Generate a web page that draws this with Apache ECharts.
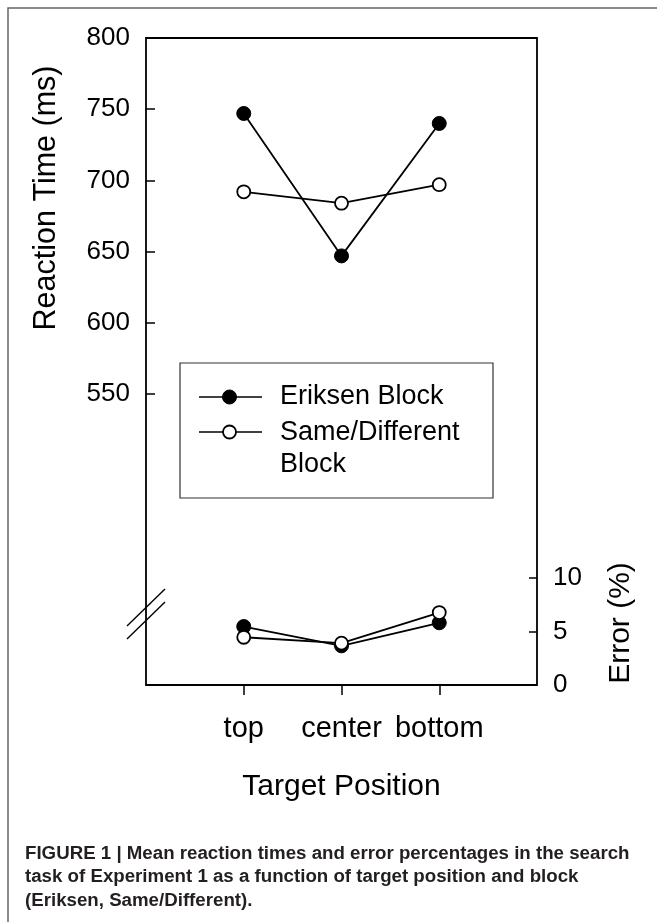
<!DOCTYPE html>
<html>
<head>
<meta charset="utf-8">
<script src="https://cdn.jsdelivr.net/npm/echarts@6/dist/echarts.min.js"></script>
<style>
  html, body { margin: 0; padding: 0; background: #fff; }
  #chart { width: 657px; height: 922px; }
</style>
</head>
<body>
<div id="chart"></div>
<script>
// target positions on the x axis
const positions = ['top', 'center', 'bottom']
// mean reaction time (ms)
const rtEriksen = [747, 647, 740]
const rtSameDiff = [692, 684, 697]
// error percentage
const errEriksen = [5.45, 3.65, 5.8]
const errSameDiff = [4.45, 3.9, 6.75]
// tick labels
const rtTicks = [550, 600, 650, 700, 750, 800]
const errTicks = [0, 5, 10]
const posTicks = [0, 1, 2]

const seriesNames = ['Eriksen Block', 'Same/Different Block']

const font = 'Liberation Sans, Arial, Helvetica, sans-serif'

function pairs (values) {
  return values.map((v, i) => [i, v])
}

const chart = echarts.init(document.getElementById('chart'), null, { renderer: 'canvas' })

const filledSeries = {
  type: 'line',
  symbol: 'circle',
  symbolSize: 14,
  lineStyle: { color: '#000', width: 1.8 },
  itemStyle: { color: '#000', borderColor: '#000', borderWidth: 1 },
  z: 3
}
const openSeries = {
  type: 'line',
  symbol: 'circle',
  symbolSize: 13,
  lineStyle: { color: '#000', width: 1.8 },
  itemStyle: { color: '#fff', borderColor: '#000', borderWidth: 1.8 },
  z: 4
}

const option = {
  backgroundColor: '#fff',
  animation: false,
  textStyle: { fontFamily: font },
  grid: {
    left: 146,
    right: 120,
    top: 38,
    bottom: 237,
    show: true,
    borderColor: '#000',
    borderWidth: 1.8
  },
  xAxis: {
    type: 'value',
    min: -1,
    max: 3,
    name: 'Target Position',
    nameLocation: 'middle',
    nameGap: 87,
    nameTextStyle: { fontSize: 30, color: '#000', fontFamily: font },
    axisLine: { show: false, onZero: false },
    splitLine: { show: false },
    axisTick: { show: true, inside: false, length: 10, customValues: posTicks, lineStyle: { color: '#000', width: 1.5 } },
    axisLabel: {
      customValues: posTicks,
      margin: 29,
      fontSize: 29,
      color: '#000',
      fontFamily: font,
      formatter: (v) => positions[Math.round(v)] || ''
    }
  },
  yAxis: [
    {
      type: 'value',
      position: 'left',
      min: 345.7,
      max: 800,
      axisLine: { show: false, onZero: false },
      splitLine: { show: false },
      axisTick: { show: true, inside: true, length: 9, customValues: rtTicks, lineStyle: { color: '#000', width: 1.5 } },
      axisLabel: { customValues: rtTicks, margin: 16, fontSize: 26, color: '#000', fontFamily: font }
    },
    {
      type: 'value',
      position: 'right',
      min: 0,
      max: 60.3,
      axisLine: { show: false, onZero: false },
      splitLine: { show: false },
      axisTick: { show: true, inside: true, length: 8, customValues: errTicks, lineStyle: { color: '#000', width: 1.5 } },
      axisLabel: { customValues: errTicks, margin: 16, fontSize: 26, color: '#000', fontFamily: font }
    }
  ],
  series: [
    Object.assign({}, filledSeries, { name: seriesNames[0], yAxisIndex: 0, data: pairs(rtEriksen) }),
    Object.assign({}, openSeries, { name: seriesNames[1], yAxisIndex: 0, data: pairs(rtSameDiff) }),
    Object.assign({}, filledSeries, { name: seriesNames[0], yAxisIndex: 1, data: pairs(errEriksen) }),
    Object.assign({}, openSeries, { name: seriesNames[1], yAxisIndex: 1, data: pairs(errSameDiff) })
  ],
  graphic: [
    // figure frame (top and left only)
    { type: 'polyline', shape: { points: [[8, 922], [8, 8], [657, 8]] }, style: { stroke: '#666', lineWidth: 1.5, fill: null } },
    // axis break marks
    { type: 'line', shape: { x1: 127, y1: 626, x2: 165, y2: 589 }, style: { stroke: '#000', lineWidth: 1.4 } },
    { type: 'line', shape: { x1: 127, y1: 639, x2: 165, y2: 602 }, style: { stroke: '#000', lineWidth: 1.4 } },
    // axis titles
    {
      type: 'text', x: 47, y: 198, rotation: Math.PI / 2,
      style: { text: 'Reaction Time (ms)', font: '30.5px ' + font, fill: '#000', align: 'center', verticalAlign: 'middle' }
    },
    {
      type: 'text', x: 621, y: 623, rotation: Math.PI / 2,
      style: { text: 'Error (%)', font: '30px ' + font, fill: '#000', align: 'center', verticalAlign: 'middle' }
    },
    // legend
    { type: 'rect', shape: { x: 180, y: 363, width: 313, height: 135 }, style: { fill: '#fff', stroke: '#333', lineWidth: 1.2 }, z: 10 },
    { type: 'line', shape: { x1: 199, y1: 397, x2: 262, y2: 397 }, style: { stroke: '#000', lineWidth: 1.6 }, z: 11 },
    { type: 'circle', shape: { cx: 229.5, cy: 397, r: 7 }, style: { fill: '#000', stroke: '#000' }, z: 12 },
    { type: 'line', shape: { x1: 199, y1: 432, x2: 262, y2: 432 }, style: { stroke: '#000', lineWidth: 1.6 }, z: 11 },
    { type: 'circle', shape: { cx: 229.5, cy: 432, r: 6.5 }, style: { fill: '#fff', stroke: '#000', lineWidth: 1.8 }, z: 12 },
    {
      type: 'text', x: 280, y: 397, z: 12,
      style: { text: seriesNames[0], font: '27px ' + font, fill: '#000', verticalAlign: 'middle' }
    },
    {
      type: 'text', x: 280, y: 433, z: 12,
      style: { text: 'Same/Different\nBlock', font: '27px ' + font, lineHeight: 32, fill: '#000', verticalAlign: 'top', padding: [-16, 0, 0, 0] }
    },
    // caption
    {
      type: 'text', x: 25, y: 842,
      style: {
        text: 'FIGURE 1 | Mean reaction times and error percentages in the search\ntask of Experiment 1 as a function of target position and block\n(Eriksen, Same/Different).',
        font: 'bold 18.7px ' + font,
        lineHeight: 23.5,
        fill: '#231f20',
        verticalAlign: 'top'
      }
    }
  ]
}

chart.setOption(option)
</script>
</body>
</html>
